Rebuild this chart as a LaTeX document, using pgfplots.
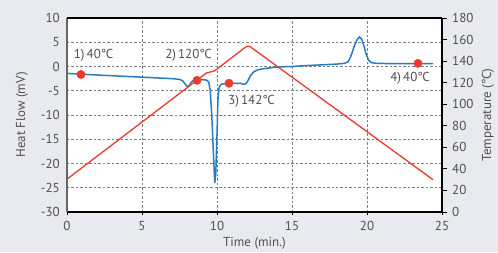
\documentclass[border=0pt]{standalone}
\usepackage{pgfplots}
\pgfplotsset{compat=1.18}
\usepackage{fontspec}
\setmainfont{PT Sans}
\definecolor{bg}{RGB}{233,234,239}
\definecolor{hf}{RGB}{38,124,196}
\definecolor{tc}{RGB}{236,58,44}
\definecolor{txt}{RGB}{80,80,80}
\definecolor{gridc}{RGB}{125,125,125}
\newcommand{\degC}{\textdegree\kern-0.6pt C}
\newcommand{\fs}{\fontsize{13bp}{15bp}\selectfont}
\begin{document}
\begin{tikzpicture}[x=1bp,y=1bp]
\fill[bg] (0,0) rectangle (498,252);
% Heat flow axis
\begin{axis}[at={(67bp,40bp)},anchor=south west,width=375bp,height=194bp,scale only axis,
  xmin=0,xmax=25,ymin=-30,ymax=10,
  xtick={0,5,...,25}, ytick={-30,-25,...,10},
  axis x line*=bottom, axis y line*=left, axis line style={-},
  x axis line style={black,line width=1.1pt},
  y axis line style={gray!80!black,line width=2pt},
  axis background/.style={fill=white},
  grid=major, grid style={gridc,dash pattern=on 2.5pt off 2pt,line width=0.7pt},
  tick align=outside, major tick length=3bp,
  xtick style={black,line width=0.8pt},
  ytick style={draw=none},
  /pgf/number format/assume math mode=true,
  ticklabel style={font=\fs,text=txt},
  xticklabel style={anchor=center,inner sep=0pt,yshift=-11bp},
  yticklabel style={anchor=east,inner sep=0pt,xshift=-4bp},
  xlabel={Time (min.)}, ylabel={Heat Flow (mV)},
  label style={font=\fs,text=txt},
  xlabel style={at={(rel axis cs:0.5,0)},anchor=center,yshift=-31bp},
  ylabel style={at={(rel axis cs:0,0.5)},anchor=center,yshift=45bp},
]
\addplot[hf,line width=1.5pt] coordinates {
(0,-1.4) (1,-1.6) (2,-1.75) (3,-1.9) (4,-2.05) (5,-2.2) (6,-2.35) (7,-2.5)
(7.5,-2.65) (7.7,-2.9) (7.85,-3.5) (8.0,-4.1) (8.1,-4.1) (8.25,-3.4) (8.4,-2.9)
(8.6,-2.7) (9.0,-2.7) (9.3,-2.8) (9.45,-3.2) (9.55,-5) (9.65,-10) (9.75,-17)
(9.85,-24) (9.92,-22) (10.0,-14) (10.06,-7) (10.12,-4.6) (10.2,-3.9) (10.35,-3.6)
(11.0,-3.5) (11.6,-3.5) (11.8,-3.7) (11.95,-3.5) (12.1,-2.7) (12.25,-1.8)
(12.45,-1.1) (12.7,-0.7) (13.0,-0.5) (14,-0.1) (15,0) (16,0.2) (17,0.35) (18,0.5)
(18.5,0.65) (18.75,1.0) (18.95,2.3) (19.15,4.2) (19.35,5.6) (19.5,6.1) (19.65,5.6)
(19.8,4.2) (19.95,2.5) (20.1,1.3) (20.3,0.8) (20.6,0.65) (21.5,0.6) (24.4,0.6)
};
\end{axis}
% Temperature axis
\begin{axis}[at={(67bp,40bp)},anchor=south west,width=375bp,height=194bp,scale only axis,
  xmin=0,xmax=25,ymin=0,ymax=180,
  ytick={0,20,...,180}, xtick=\empty,
  axis x line*=top, axis y line*=right, axis line style={-,black,line width=1.1pt},
  tick align=outside, major tick length=5bp,
  ytick style={black,line width=0.8pt},
  /pgf/number format/assume math mode=true,
  ticklabel style={font=\fs,text=txt},
  yticklabel style={anchor=west,inner sep=0pt,xshift=5bp},
  ylabel={Temperature (\degC)},
  label style={font=\fs,text=txt},
  ylabel style={at={(rel axis cs:1,0.5)},anchor=center,yshift=-46bp},
]
\addplot[tc,line width=1.3pt] coordinates {
(0,30.5) (9.3,129) (9.85,131) (11.9,153) (12.05,153.8) (12.2,153.5) (24.4,30)
};
\end{axis}
% Markers and labels
\begin{axis}[at={(67bp,40bp)},anchor=south west,width=375bp,height=194bp,scale only axis,
  xmin=0,xmax=25,ymin=-30,ymax=10, hide axis, clip=false]
\addplot[only marks,mark=*,mark size=4.2bp,color=tc,fill=tc] coordinates {
(0.93,-1.65) (8.67,-2.85) (10.8,-3.45) (23.4,0.65)
};
\node[font=\fs,text=txt] at (axis cs:1.77,2.37) {1)\,40\degC};
\node[font=\fs,text=txt] at (axis cs:8.1,2.37) {2)\,120\degC};
\node[font=\fs,text=txt] at (axis cs:12.3,-7.26) {3)\,142\degC};
\node[font=\fs,text=txt] at (axis cs:22.87,-2.37) {4)\,40\degC};
\end{axis}
\end{tikzpicture}
\end{document}
